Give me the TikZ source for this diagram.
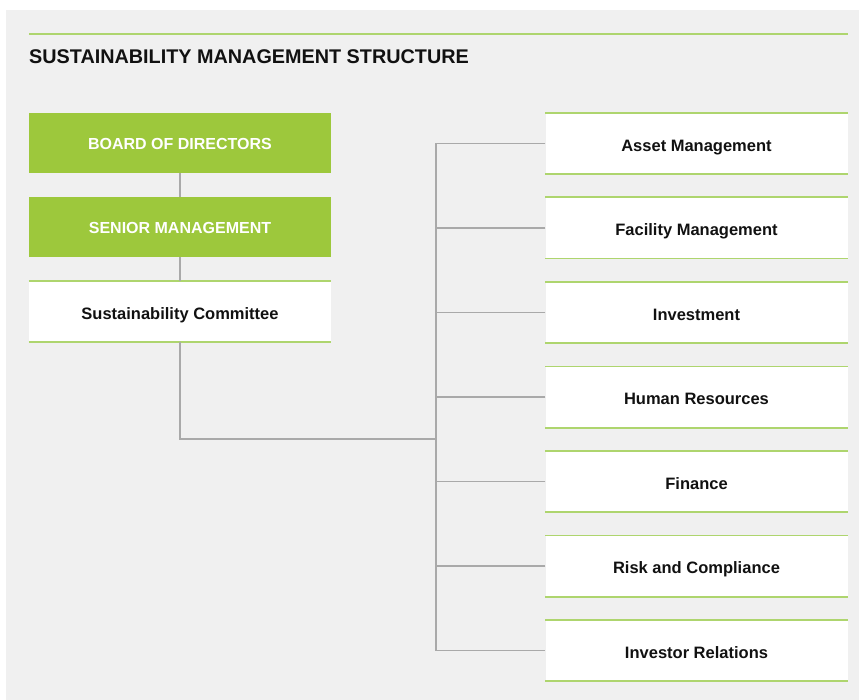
\documentclass[tikz,border=0pt]{standalone}
\usepackage{fontspec}
\setmainfont{Liberation Sans}
\definecolor{pagebg}{HTML}{F0F0F0}
\definecolor{leaf}{HTML}{9DC83C}
\definecolor{rule}{HTML}{AED56E}
\definecolor{wire}{HTML}{A9A9A9}
\definecolor{ink}{HTML}{111111}
\begin{document}
\begin{tikzpicture}[x=1pt,y=-1pt,
  greenbox/.style={fill=leaf,draw=none,minimum width=302pt,minimum height=60pt,inner sep=0pt,
    text=white,font=\bfseries\fontsize{16}{19}\selectfont,text height=15.5pt,text depth=1.5pt},
  whitebox/.style={fill=white,draw=none,minimum width=302pt,minimum height=61pt,inner sep=0pt,
    text=ink,font=\bfseries\fontsize{16.5}{19}\selectfont,text height=17pt,text depth=1.5pt,
    append after command={
      (\tikzlastnode.north west) edge[draw=rule,line width=1.6pt] (\tikzlastnode.north east)
      (\tikzlastnode.south west) edge[draw=rule,line width=1.6pt] (\tikzlastnode.south east)}},
  wireline/.style={draw=wire,line width=1.4pt}]
  % page and panel
  \useasboundingbox (0,0) rectangle (859,700);
  \fill[white] (0,0) rectangle (859,700);
  \fill[pagebg] (6,10) rectangle (859,700);
  % heading
  \coordinate (hl) at (29,34);
  \coordinate (hr) at (848,34);
  \draw[rule,line width=1.6pt] (hl) -- (hr);
  \node[anchor=base west,inner sep=0pt,text=ink,font=\bfseries\fontsize{19.8}{22}\selectfont]
    (title) at (29,64) {SUSTAINABILITY MANAGEMENT STRUCTURE};
  % left column
  \node[greenbox] (board)  at (180,143) {BOARD OF DIRECTORS};
  \node[greenbox] (senior) at (180,227) {SENIOR MANAGEMENT};
  \node[whitebox] (committee) at (180,311.5) {Sustainability Committee};
  % right column
  \node[whitebox] (asset) at (696.5,143.5) {Asset Management};
  \node[whitebox] (facility) at (696.5,228) {Facility Management};
  \node[whitebox] (invest) at (696.5,312.5) {Investment};
  \node[whitebox] (hr) at (696.5,397) {Human Resources};
  \node[whitebox] (finance) at (696.5,481.5) {Finance};
  \node[whitebox] (risk) at (696.5,566) {Risk and Compliance};
  \node[whitebox] (ir) at (696.5,650.5) {Investor Relations};
  % connectors
  \coordinate (trunk) at (436,439);
  \draw[wireline] (board) -- (senior);
  \draw[wireline] (senior) -- (committee);
  \draw[wireline] (committee.south) |- (trunk);
  \draw[wireline] (asset.west) -| (ir.west -| trunk) -- (ir.west);
  \foreach \n in {facility,invest,hr,finance,risk}
    \draw[wireline] (\n.west) -- (\n.west -| trunk);
\end{tikzpicture}
\end{document}
